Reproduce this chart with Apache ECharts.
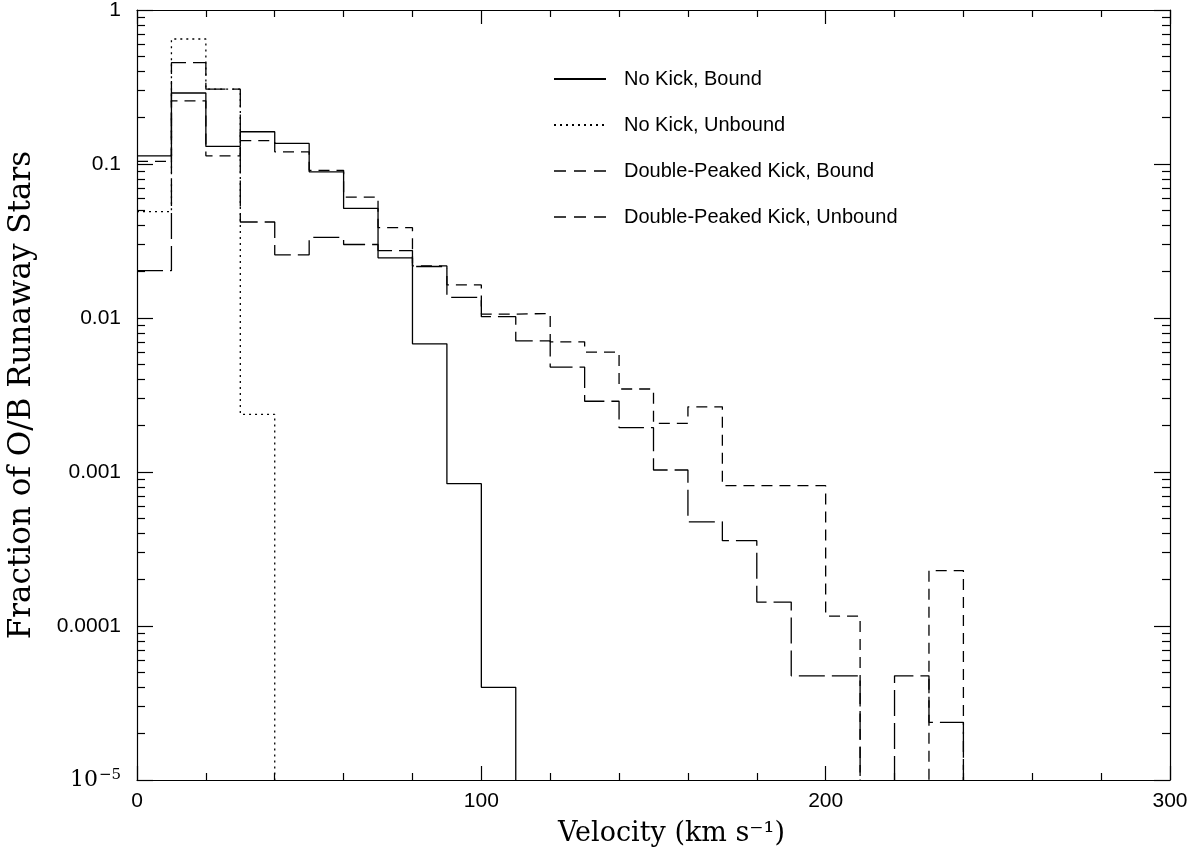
<!DOCTYPE html>
<html>
<head>
<meta charset="utf-8">
<title>O/B runaway velocity distribution</title>
<script src="https://cdn.jsdelivr.net/npm/echarts@6/dist/echarts.min.js"></script>
<style>
  html, body { margin: 0; padding: 0; background: #ffffff; }
  #chart { width: 1192px; height: 858px; }
</style>
</head>
<body>
<div id="chart"></div>
<script>
// Velocity bins (km/s): left edges, 10 km/s wide
const binStarts = [0, 10, 20, 30, 40, 50, 60, 70, 80, 90, 100, 110,
                   120, 130, 140, 150, 160, 170, 180, 190, 200, 210, 220, 230];
const binWidth = 10;

const seriesNames = [
  'No Kick, Bound',
  'No Kick, Unbound',
  'Double-Peaked Kick, Bound',
  'Double-Peaked Kick, Unbound'
];

// Fraction of runaways per bin (0 = empty bin)
const noKickBound = [0.113, 0.289, 0.130, 0.162, 0.136, 0.089, 0.0515, 0.0246,
                     0.0068, 0.00084, 0.00004];
const noKickUnbound = [0.049, 0.648, 0.306, 0.00237];
const dpKickBound = [0.104, 0.257, 0.113, 0.142, 0.120, 0.091, 0.061, 0.0386,
                     0.0218, 0.0164, 0.0106, 0.0107, 0.0070, 0.0060, 0.00346, 0.00207,
                     0.00265, 0.000815, 0.000815, 0.000815, 0.000116, 0, 0, 0.000229];
const dpKickUnbound = [0.0203, 0.455, 0.306, 0.042, 0.0257, 0.0334, 0.030, 0.0274,
                       0.0216, 0.0136, 0.0102, 0.0071, 0.0048, 0.00288, 0.00194, 0.00103,
                       0.000475, 0.000358, 0.000143, 0.0000475, 0.0000475, 0, 0.0000475, 0.0000237];

// Axis tick labels
const xTickLabels = ['0', '100', '200', '300'];
const yTickLabels = ['1', '0.1', '0.01', '0.001', '0.0001', '{m|10}{e|\u22125}'];

// Empty bins sit below the log axis floor so the histogram drops off the frame
const FLOOR = 1e-8;

function histogramPoints(values) {
  const pts = values.map((v, i) => [binStarts[i], v > 0 ? v : FLOOR]);
  pts.push([binStarts[values.length - 1] + binWidth, FLOOR]);
  return pts;
}

const lineStyles = [
  { type: 'solid' },
  { type: [2, 4] },
  { type: [11, 7] },
  { type: [26, 7] }
];
const seriesValues = [noKickBound, noKickUnbound, dpKickBound, dpKickUnbound];

const chart = echarts.init(document.getElementById('chart'), null, { renderer: 'canvas' });

const axisLineStyle = { color: '#000', width: 1.2 };
const sansFont = '"Liberation Sans", Arial, sans-serif';
const serifFont = '"DejaVu Serif", "Liberation Serif", serif';

const option = {
  backgroundColor: '#ffffff',
  animation: false,
  grid: { left: 137, right: 22, top: 10, bottom: 78, outerBoundsMode: 'none', containLabel: false },
  legend: {
    left: 548,
    top: 64,
    orient: 'vertical',
    itemWidth: 52,
    itemHeight: 12,
    itemGap: 26,
    itemStyle: { opacity: 0 },
    textStyle: {
      fontFamily: sansFont,
      fontSize: 20,
      color: '#000',
      lineHeight: 20,
      padding: [0, 0, 0, 13]
    },
    data: seriesNames.map((name, i) => ({
      name: name,
      lineStyle: i >= 2 ? { type: [12, 8], width: 1.3, color: '#000' } : undefined
    }))
  },
  xAxis: [
    {
      type: 'value',
      position: 'bottom',
      min: 0, max: 300, interval: 100,
      name: 'Velocity (km s\u207B\u00B9)',
      nameLocation: 'middle',
      nameGap: 40,
      nameTextStyle: { fontFamily: serifFont, fontSize: 27, color: '#000', padding: [0, 0, 0, 36] },
      axisLine: { show: true, onZero: false, lineStyle: axisLineStyle },
      axisTick: { show: true, inside: true, length: 14, lineStyle: axisLineStyle },
      minorTick: { show: true, splitNumber: 5, length: 7, lineStyle: axisLineStyle },
      splitLine: { show: false },
      axisLabel: {
        margin: 11,
        fontFamily: sansFont, fontSize: 21, color: '#000',
        formatter: v => xTickLabels[Math.round(v / 100)]
      }
    },
    {
      type: 'value',
      position: 'top',
      min: 0, max: 300, interval: 100,
      axisLine: { show: true, onZero: false, lineStyle: axisLineStyle },
      axisTick: { show: true, inside: true, length: 14, lineStyle: axisLineStyle },
      minorTick: { show: true, splitNumber: 5, length: 7, lineStyle: axisLineStyle },
      splitLine: { show: false },
      axisLabel: { show: false }
    }
  ],
  yAxis: [
    {
      type: 'log',
      logBase: 10,
      position: 'left',
      min: 1e-5, max: 1,
      splitNumber: 5,
      name: 'Fraction of O/B Runaway Stars',
      nameLocation: 'middle',
      nameGap: 100,
      nameTextStyle: { fontFamily: serifFont, fontSize: 31, color: '#000' },
      axisLine: { show: true, onZero: false, lineStyle: axisLineStyle },
      axisTick: { show: true, inside: true, length: 16, lineStyle: axisLineStyle },
      minorTick: { show: true, splitNumber: 9, length: 8, lineStyle: axisLineStyle },
      splitLine: { show: false },
      axisLabel: {
        margin: 16,
        fontFamily: sansFont, fontSize: 21, color: '#000',
        formatter: v => yTickLabels[Math.round(-Math.log10(v))],
        rich: {
          m: { fontFamily: serifFont, fontSize: 22, color: '#000' },
          e: { fontFamily: serifFont, fontSize: 15, color: '#000', padding: [0, 0, 10, 1] }
        }
      }
    },
    {
      type: 'log',
      logBase: 10,
      position: 'right',
      min: 1e-5, max: 1,
      splitNumber: 5,
      axisLine: { show: true, onZero: false, lineStyle: axisLineStyle },
      axisTick: { show: true, inside: true, length: 16, lineStyle: axisLineStyle },
      minorTick: { show: true, splitNumber: 9, length: 8, lineStyle: axisLineStyle },
      splitLine: { show: false },
      axisLabel: { show: false }
    }
  ],
  series: seriesNames.map((name, i) => ({
    name: name,
    type: 'line',
    xAxisIndex: 0,
    yAxisIndex: 0,
    step: 'end',
    symbol: 'none',
    clip: true,
    color: '#000',
    lineStyle: Object.assign({ color: '#000', width: 1.3 }, lineStyles[i]),
    data: histogramPoints(seriesValues[i])
  }))
};

chart.setOption(option);
</script>
</body>
</html>
